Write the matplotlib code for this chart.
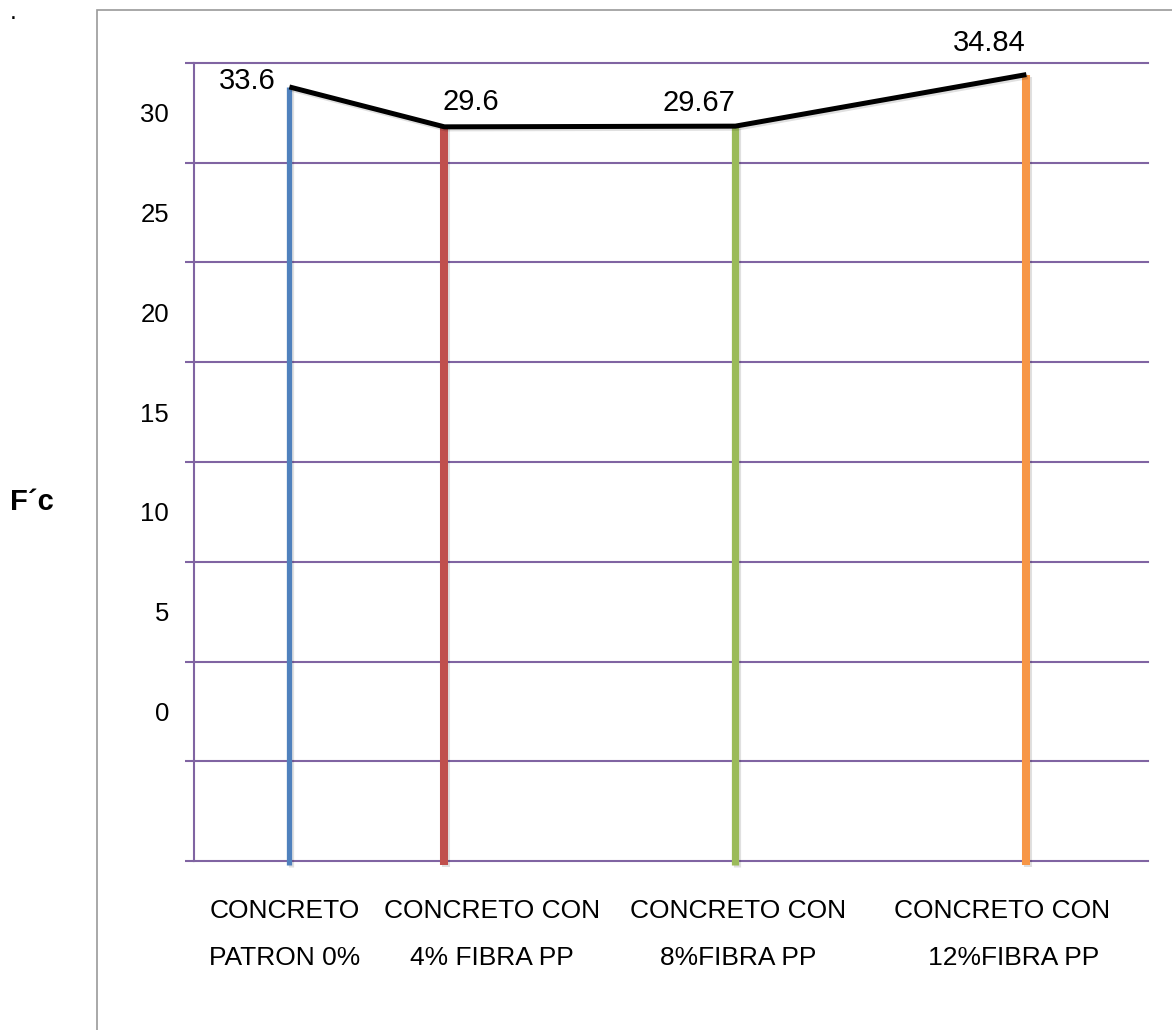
import matplotlib
matplotlib.use('Agg')
import matplotlib.pyplot as plt
import matplotlib.patheffects as pe
from matplotlib.patches import Rectangle
import numpy as np

# Resistencia a compresion (F'c) por tipo de mezcla
categorias = ['CONCRETO\nPATRON 0%',
              'CONCRETO CON\n4% FIBRA PP',
              'CONCRETO CON\n8%FIBRA PP',
              'CONCRETO CON\n   12%FIBRA PP']
fc_valores = [33.6, 29.6, 29.67, 34.84]
etiquetas_y = ['30', '25', '20', '15', '10', '5', '0']

# layout
pos_barras = [0.40, 1.05, 2.27, 3.49]
pos_categorias = [0.38, 1.25, 2.28, 3.39]
colores = ['#4F81BD', '#C0504D', '#9BBB59', '#F79646']
anchos = [3.8, 5.8, 5.2, 5.8]
# desplazamiento de las etiquetas de valor (pt)
desp = [(-30, 4), (19, 18), (-26, 17), (-27, 23)]
morado = '#8064A2'

plt.rcParams['font.family'] = ['Liberation Sans', 'DejaVu Sans']

fig = plt.figure(figsize=(11.72, 10.30), dpi=100)
ax = fig.add_axes([194/1172, 169/1030, 954/1172, 798/1030])

y_min, y_max = -44, 36
lineas_grid = np.arange(y_min, y_max + 1, 10)
medios = (lineas_grid[1:] + lineas_grid[:-1]) / 2.0
ax.set_xlim(0, 4)
ax.set_ylim(y_min, y_max)

# lineas verticales (una por mezcla)
sombra = [pe.SimpleLineShadow(offset=(1, -1.5), alpha=0.12), pe.Normal()]
for x, v, c, w in zip(pos_barras, fc_valores, colores, anchos):
    ax.vlines(x, y_min - 0.4, v, colors=c, linewidth=w, zorder=3,
              clip_on=False, path_effects=sombra)

# linea que une los valores
ax.plot(pos_barras, fc_valores, color='black', linewidth=3.6, zorder=4,
        solid_capstyle='butt', path_effects=sombra)

for x, v, (dx, dy) in zip(pos_barras, fc_valores, desp):
    ax.annotate('{0:g}'.format(v), xy=(x, v), xytext=(dx, dy),
                textcoords='offset points', ha='center', va='center',
                fontsize=21, color='black', annotation_clip=False)

# rejilla y ejes
ax.set_yticks(lineas_grid)
ax.set_yticklabels([])
ax.set_yticks(medios[1:][::-1], minor=True)
ax.set_yticklabels(etiquetas_y, minor=True, fontsize=18.5)
ax.tick_params(axis='y', which='major', length=6.5, width=1.5,
               color=morado, direction='out')
ax.tick_params(axis='y', which='minor', length=0, pad=18)
ax.grid(axis='y', which='major', color=morado, linewidth=1.5)
for linea in ax.get_ygridlines():
    linea.set_clip_on(False)
ax.set_axisbelow(True)

ax.set_xticks(pos_categorias)
ax.set_xticklabels(categorias, fontsize=19, linespacing=2.25)
ax.tick_params(axis='x', length=0, pad=27)

for lado in ['top', 'right', 'bottom']:
    ax.spines[lado].set_visible(False)
ax.spines['left'].set_color(morado)
ax.spines['left'].set_linewidth(1.5)

fig.text(32/1172, 1 - 502/1030, 'F\u00b4c', fontsize=21, fontweight='bold',
         ha='center', va='center')

# marco del area del grafico
fig.add_artist(Rectangle((97/1172, -0.05), 1.0, 1 - 10/1030 + 0.05,
                         transform=fig.transFigure, fill=False,
                         edgecolor='#999999', linewidth=1.2))
fig.text(13/1172, 1 - 19/1030, '.', fontsize=18, ha='center',
         va='baseline')

fig.savefig('out.png', dpi=100)
